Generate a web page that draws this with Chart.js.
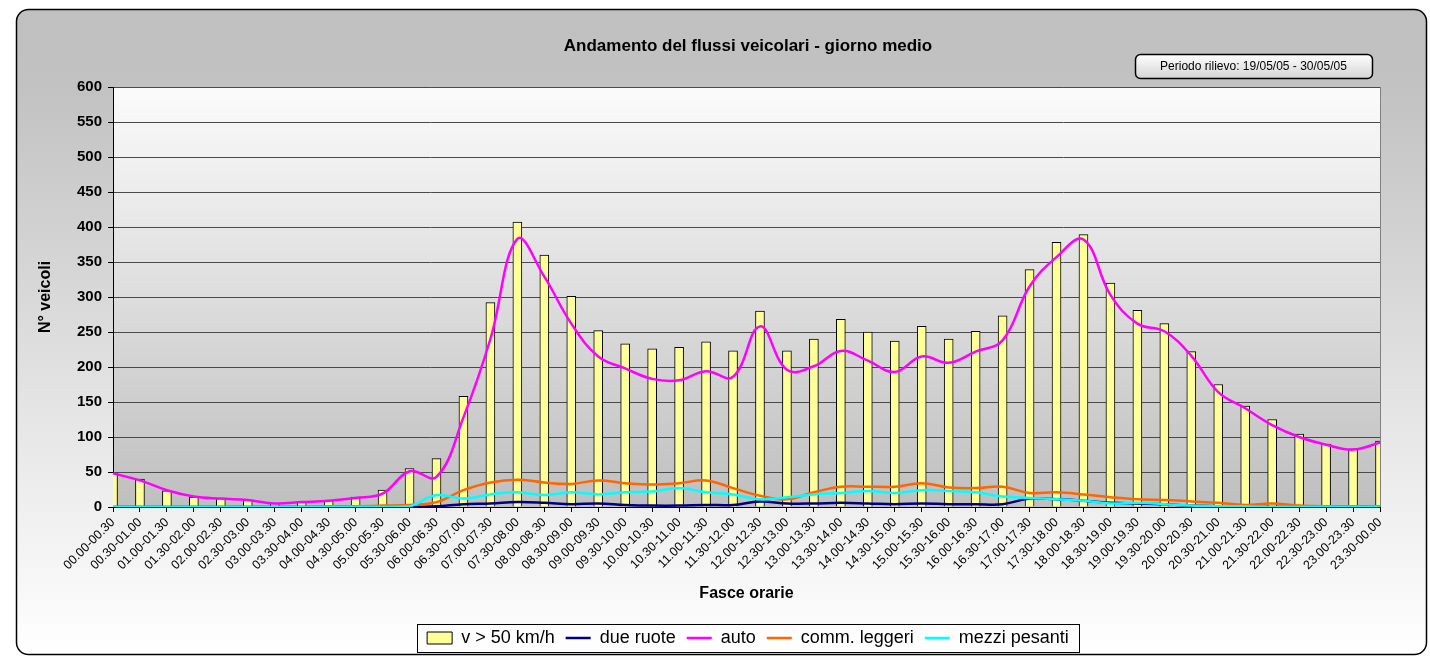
<!DOCTYPE html>
<html>
<head>
<meta charset="utf-8">
<title>Andamento del flussi veicolari - giorno medio</title>
<script src="https://cdn.jsdelivr.net/npm/chart.js@4.4.1/dist/chart.umd.min.js"></script>
<style>
  html, body { margin: 0; padding: 0; background: #fff; }
  #wrap { width: 1430px; height: 657px; }
</style>
</head>
<body>
<div id="wrap"><canvas id="chart" width="1430" height="657"></canvas></div>
<script>
// fasce orarie (mezz'ora)
const fasce = [
  '00.00-00.30', '00.30-01.00', '01.00-01.30', '01.30-02.00', '02.00-02.30', '02.30-03.00',
  '03.00-03.30', '03.30-04.00', '04.00-04.30', '04.30-05.00', '05.00-05.30', '05.30-06.00',
  '06.00-06.30', '06.30-07.00', '07.00-07.30', '07.30-08.00', '08.00-08.30', '08.30-09.00',
  '09.00-09.30', '09.30-10.00', '10.00-10.30', '10.30-11.00', '11.00-11.30', '11.30-12.00',
  '12.00-12.30', '12.30-13.00', '13.00-13.30', '13.30-14.00', '14.00-14.30', '14.30-15.00',
  '15.00-15.30', '15.30-16.00', '16.00-16.30', '16.30-17.00', '17.00-17.30', '17.30-18.00',
  '18.00-18.30', '18.30-19.00', '19.00-19.30', '19.30-20.00', '20.00-20.30', '20.30-21.00',
  '21.00-21.30', '21.30-22.00', '22.00-22.30', '22.30-23.00', '23.00-23.30', '23.30-00.00'
];

// v > 50 km/h (barre)
const oltre50 = [
  48, 40, 23, 14, 12, 10, 5, 7, 9, 14, 24, 55,
  69, 158, 292, 407, 360, 301, 252, 233, 226, 228, 236, 223,
  280, 223, 240, 268, 250, 237, 258, 240, 251, 273, 339, 378,
  389, 320, 281, 262, 222, 175, 144, 125, 104, 90, 83, 94
];

const dueRuote = [
  0, 0, 0, 0, 0, 0, 0, 0, 0, 0, 0, 0,
  1, 4, 5, 7, 6, 4, 5, 3, 2, 2, 3, 3,
  8, 5, 5, 6, 5, 4, 5, 4, 4, 4, 12, 11,
  9, 6, 5, 4, 2, 1, 0, 0, 0, 0, 0, 0
];

const auto = [
  48, 38, 24, 15, 12, 10, 5, 7, 9, 13, 19, 51,
  43, 128, 240, 383, 329, 262, 215, 198, 183, 181, 194, 186,
  258, 196, 201, 223, 209, 193, 215, 206, 222, 238, 315, 357,
  382, 303, 262, 251, 216, 164, 141, 117, 100, 89, 82, 92
];

const commLeggeri = [
  0, 0, 0, 0, 0, 0, 0, 0, 1, 1, 2, 3,
  7, 24, 35, 39, 35, 33, 38, 34, 32, 34, 38, 27,
  16, 11, 21, 29, 29, 29, 34, 28, 27, 29, 20, 21,
  18, 14, 11, 10, 8, 6, 3, 5, 2, 1, 1, 1
];

const mezziPesanti = [
  0, 0, 0, 0, 0, 0, 0, 0, 0, 0, 0, 1,
  17, 12, 18, 21, 17, 21, 18, 21, 22, 27, 21, 18,
  11, 14, 18, 20, 23, 20, 24, 23, 21, 15, 13, 11,
  9, 5, 6, 4, 2, 1, 1, 0, 0, 0, 0, 0
];

const yTicks = [0, 50, 100, 150, 200, 250, 300, 350, 400, 450, 500, 550, 600];

const titolo = 'Andamento del flussi veicolari - giorno medio';
const periodo = 'Periodo rilievo: 19/05/05 - 30/05/05';

const FONT = "Arial, 'Liberation Sans', Helvetica, sans-serif";

function lineSet(label, data, color, order) {
  return {
    type: 'line',
    label,
    data,
    borderColor: color,
    backgroundColor: color,
    borderWidth: 2.5,
    pointRadius: 0,
    pointStyle: 'line',
    tension: 0.4,
    fill: false,
    order
  };
}

// background panel, plot gradient, title, period box, legend frame
const decor = {
  id: 'decor',
  beforeDraw(chart) {
    const { ctx, chartArea: a } = chart;
    ctx.save();
    ctx.fillStyle = '#ffffff';
    ctx.fillRect(0, 0, chart.width, chart.height);

    const g = ctx.createLinearGradient(0, 10, 0, 655);
    g.addColorStop(0, '#c0c0c0');
    g.addColorStop(0.12, '#c2c2c2');
    g.addColorStop(1, '#ffffff');
    ctx.beginPath();
    ctx.roundRect(16.5, 9.5, 1410, 645, 12);
    ctx.fillStyle = g;
    ctx.fill();
    ctx.lineWidth = 1.5;
    ctx.strokeStyle = '#000';
    ctx.stroke();

    const pg = ctx.createLinearGradient(0, a.top, 0, a.bottom);
    pg.addColorStop(0, '#fbfbfb');
    pg.addColorStop(1, '#bfbfbf');
    ctx.fillStyle = pg;
    ctx.fillRect(a.left, a.top, a.right - a.left, a.bottom - a.top);
    ctx.strokeStyle = '#808080';
    ctx.lineWidth = 1;
    ctx.strokeRect(a.left + 0.5, a.top + 0.5, a.right - a.left, a.bottom - a.top);
    ctx.restore();
  },
  afterLayout(chart) {
    // centre the legend row under the plot area
    const lg = chart.legend, a = chart.chartArea;
    if (!lg) return;
    const dx = (a.left + a.right) / 2 + 1.5 - (lg.left + lg.right) / 2;
    lg.left += dx;
    lg.right += dx;
  },
  afterDraw(chart) {
    const { ctx, chartArea: a } = chart;
    ctx.save();
    // title
    ctx.fillStyle = '#000';
    ctx.font = `bold 17px ${FONT}`;
    ctx.textAlign = 'center';
    ctx.textBaseline = 'middle';
    ctx.fillText(titolo, (a.left + a.right) / 2 + 1.5, 46);

    // period box
    const bx = 1135, by = 54.5, bw = 237, bh = 24;
    const bg = ctx.createLinearGradient(0, by, 0, by + bh);
    bg.addColorStop(0, '#ffffff');
    bg.addColorStop(1, '#d4d4d4');
    ctx.beginPath();
    ctx.roundRect(bx + 0.5, by, bw, bh, 5);
    ctx.fillStyle = bg;
    ctx.fill();
    ctx.lineWidth = 1.5;
    ctx.strokeStyle = '#000';
    ctx.stroke();
    ctx.fillStyle = '#000';
    ctx.font = `12px ${FONT}`;
    ctx.fillText(periodo, bx + bw / 2, by + bh / 2 + 0.5);

    // legend frame
    const lg = chart.legend;
    if (lg && lg.lineWidths) {
      const pad = lg.options.labels.padding;
      const fs = lg.options.labels.font.size;
      const w = lg.lineWidths[0] - pad;
      const cx = (lg.left + lg.right) / 2;
      const cy = lg.top + pad + fs / 2;
      ctx.lineWidth = 1;
      ctx.strokeStyle = '#000';
      ctx.strokeRect(Math.round(cx - w / 2 - 10) + 0.5, Math.round(cy - 14) + 0.5, Math.round(w + 20), 28);
    }
    ctx.restore();
  }
};

new Chart(document.getElementById('chart'), {
  type: 'bar',
  data: {
    labels: fasce,
    datasets: [
      {
        type: 'bar',
        label: 'v > 50 km/h',
        data: oltre50,
        backgroundColor: '#ffff99',
        borderColor: '#000000',
        borderWidth: 1,
        barThickness: 9,
        pointStyle: 'rect',
        order: 5
      },
      lineSet('due ruote', dueRuote, '#000080', 4),
      lineSet('auto', auto, '#ff00ff', 3),
      lineSet('comm. leggeri', commLeggeri, '#ff6600', 2),
      lineSet('mezzi pesanti', mezziPesanti, '#00ffff', 1)
    ]
  },
  options: {
    responsive: false,
    animation: false,
    devicePixelRatio: 1,
    layout: { padding: { left: 32, right: 50, top: 87, bottom: 0 } },
    plugins: {
      title: { display: false },
      tooltip: { enabled: false },
      legend: {
        position: 'bottom',
        labels: {
          usePointStyle: true,
          pointStyleWidth: 25,
          boxHeight: 12,
          padding: 11,
          color: '#000',
          font: { family: FONT, size: 18 },
          sort: (a, b) => a.datasetIndex - b.datasetIndex
        }
      }
    },
    scales: {
      x: {
        offset: false,
        grid: {
          offset: false,
          drawOnChartArea: false,
          drawTicks: true,
          tickLength: 5,
          color: '#000'
        },
        border: { display: true, color: '#000', width: 1 },
        ticks: {
          autoSkip: false,
          minRotation: 45,
          maxRotation: 45,
          padding: 3,
          color: '#000',
          font: { family: FONT, size: 12.5 }
        },
        title: {
          display: true,
          text: 'Fasce orarie',
          color: '#000',
          font: { family: FONT, size: 16, weight: 'bold' },
          padding: { top: 4, bottom: 15 }
        },
        afterFit(scale) { scale.height = 111; }
      },
      y: {
        min: 0,
        max: 600,
        afterBuildTicks(scale) { scale.ticks = yTicks.map(v => ({ value: v })); },
        grid: {
          color: '#4a4a4a',
          tickColor: '#000',
          tickLength: 5,
          lineWidth: 1
        },
        border: { display: true, color: '#000', width: 1 },
        ticks: {
          padding: 6,
          color: '#000',
          font: { family: FONT, size: 15, weight: 'bold' }
        },
        title: {
          display: true,
          text: 'N° veicoli',
          color: '#000',
          font: { family: FONT, size: 16, weight: 'bold' },
          padding: { top: 4, bottom: 4 }
        },
        afterFit(scale) { scale.width = 81; }
      }
    }
  },
  plugins: [decor]
});
</script>
</body>
</html>
